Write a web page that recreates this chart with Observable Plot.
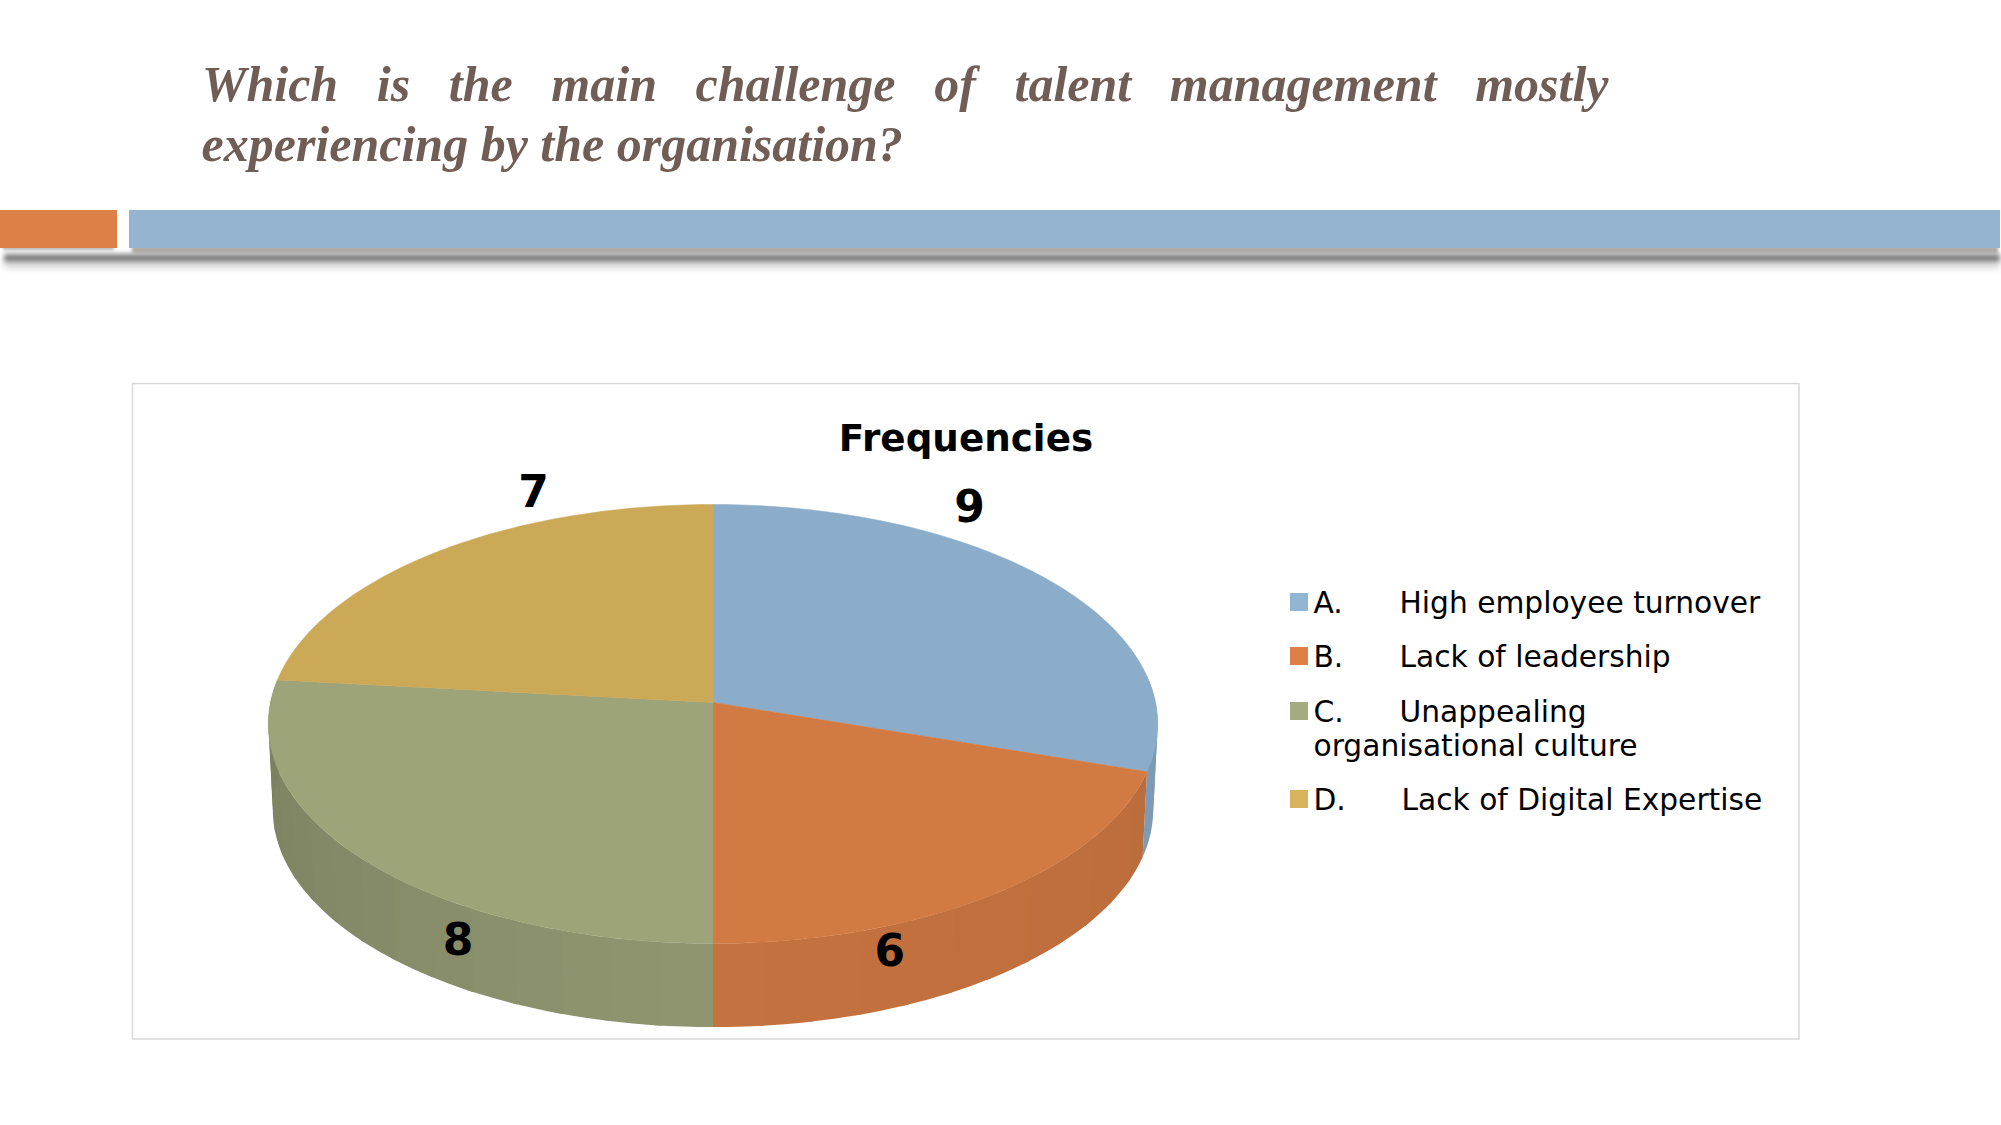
<!DOCTYPE html>
<html><head><meta charset="utf-8">
<style>html,body{margin:0;padding:0;background:#fff;overflow:hidden}svg{display:block}</style>
<script src="https://cdn.jsdelivr.net/npm/d3@7"></script>
<script src="https://cdn.jsdelivr.net/npm/@observablehq/plot@0.6"></script>
</head><body><div id="chart"></div>
<script>
// ---- data ----
const keys = ["A.", "B.", "C.", "D."];
const categories = ["High employee turnover", "Lack of leadership", "Unappealing", "Lack of Digital Expertise"];
const frequencies = [9, 6, 8, 7];
const chartTitle = "Frequencies";
const headingLines = ["Which is the main challenge of talent management mostly", "experiencing by the organisation?"];
const extraLegendLine = "organisational culture";

// ---- styles ----
const topColors = ["#8cadc9", "#d27a43", "#9da47a", "#cca957"];
const swatchColors = ["#92b5d3", "#dd8047", "#a5ab81", "#d8b25c"];

// ---- pie geometry (perspective-projected disc) ----
const cx = 712.5, apexY = 702, R = 442.5, S = 217.4, k = 0.098, drop = 86, shrink = 0.99;
const project = (a, lower) => {
  const u = Math.sin(a), v = -Math.cos(a), d = 1 - k * v, s = lower ? shrink : 1;
  return {x: cx + s * R * u / d, y: apexY + (lower ? drop : 0) + s * S * v / d};
};
const arcs = d3.pie().sort(null)(frequencies);
const deg = Math.PI / 180;

const faces = [];
arcs.forEach((arc, i) => {
  faces.push({id: i, x: cx, y: apexY, c: topColors[i]});
  const n = Math.ceil((arc.endAngle - arc.startAngle) / deg);
  for (let j = 0; j <= n; ++j) {
    faces.push({id: i, ...project(arc.startAngle + (arc.endAngle - arc.startAngle) * j / n), c: topColors[i]});
  }
  faces.push({id: i, x: cx, y: apexY, c: topColors[i]});
});

const shadeAt = a => {
  const t = (a / deg - 180) / 90;
  return t < 0 ? 0.935 + 0.05 * t : 0.915 - 0.13 * t;
};
const sides = [];
arcs.forEach((arc, i) => {
  const a0 = Math.max(arc.startAngle, 84 * deg), a1 = Math.min(arc.endAngle, 276 * deg);
  const step = 6 * deg;
  for (let a = a0; a < a1 - 1e-6; a += step) {
    const b = Math.min(a + step, a1), base = d3.rgb(topColors[i]), f = shadeAt((a + b) / 2);
    const c = d3.rgb(base.r * f, base.g * f, base.b * f).formatHex();
    const id = `${i}-${a}`;
    // Each strip runs slightly under the next one so no seam shows, but stays inside its slice.
    const end = Math.min(b + 1 * deg, a1);
    const steps = 4;
    const ring = [];
    for (let q = 0; q <= steps; ++q) ring.push(project(a + (end - a) * q / steps));
    for (let q = steps; q >= 0; --q) ring.push(project(a + (end - a) * q / steps, true));
    ring.push(ring[0]);
    ring.forEach(p => sides.push({id, ...p, c}));
  }
});

const labelRadiusX = [317, 301, 343, 268], labelRadiusY = [331, 308, 356, 282];
const valueLabels = arcs.map((arc, i) => {
  const m = (arc.startAngle + arc.endAngle) / 2;
  return {text: String(frequencies[i]), x: cx + labelRadiusX[i] * Math.sin(m), y: apexY - labelRadiusY[i] * Math.cos(m)};
});

// ---- legend layout ----
const legendBaselines = [612, 666, 721, 809];
const legendNameX = [1399, 1399, 1399, 1401];
const legendRows = keys.map((key, i) => ({key, name: categories[i], y: legendBaselines[i], nx: legendNameX[i], sw: swatchColors[i]}));

const band = (x1, x2, y1, y2, fill, extra = {}) =>
  Plot.rect([{x1, x2, y1, y2}], {x1: "x1", x2: "x2", y1: "y1", y2: "y2", fill, ...extra});

const sans = "DejaVu Sans", serif = "Liberation Serif";
const textBase = {x: "x", y: "y", text: "text", textAnchor: "start", lineAnchor: "bottom"};
const legendFont = 29.7;

const plot = Plot.plot({
  width: 2001, height: 1125, margin: 0,
  x: {domain: [0, 2001], range: [0, 2001], axis: null},
  y: {domain: [0, 1125], range: [0, 1125], axis: null},
  color: {type: "identity"},
  style: {background: "#fff", overflow: "visible"},
  marks: [
    // heading
    Plot.text([{text: headingLines[0], x: 201.5, y: 100}], {...textBase, fontFamily: serif, fontWeight: "bold", fontStyle: "italic", fontSize: 50, fill: "#705d55"}),
    Plot.text([{text: headingLines[1], x: 201, y: 160}], {...textBase, fontFamily: serif, fontWeight: "bold", fontStyle: "italic", fontSize: 50, fill: "#705d55"}),
    // banner shadows
    band(4, 2000, 263, 268, "#999", {imageFilter: "blur(3px)", fillOpacity: 0.45}),
    band(4, 2000, 254, 262, "#666", {imageFilter: "blur(2.5px)", fillOpacity: 0.85}),
    band(3, 114, 246, 250, "#777", {imageFilter: "blur(1.5px)", fillOpacity: 0.55}),
    band(132, 1998, 246, 253, "#7a746a", {imageFilter: "blur(1.5px)", fillOpacity: 0.6}),
    // banner
    band(0, 117, 210, 248, "#dd8047"),
    band(129, 2000, 210, 248, "#94b4d0"),
    // chart frame
    band(132.5, 1799, 383.5, 1039, "none", {stroke: "#d9d9d9", strokeWidth: 1.5}),
    // pie sides then top faces
    Plot.line(sides, {x: "x", y: "y", z: "id", fill: "c"}),
    Plot.line(faces, {x: "x", y: "y", z: "id", fill: "c", stroke: "c", strokeWidth: 0.5}),
    // title and value labels
    Plot.text([{text: chartTitle, x: 965.5, y: 450}], {...textBase, textAnchor: "middle", fontFamily: sans, fontWeight: "bold", fontSize: 37.3, fill: "#000"}),
    Plot.text(valueLabels, {x: "x", y: "y", text: "text", textAnchor: "middle", lineAnchor: "middle", fontFamily: sans, fontWeight: "bold", fontSize: 44, fill: "#000"}),
    // legend
    Plot.rect(legendRows, {x1: 1290, x2: 1308, y1: d => d.y - 19, y2: d => d.y - 1, fill: "sw"}),
    Plot.text(legendRows, {x: 1313, y: "y", text: "key", textAnchor: "start", lineAnchor: "bottom", fontFamily: sans, fontSize: legendFont, fill: "#000"}),
    Plot.text(legendRows, {x: "nx", y: "y", text: "name", textAnchor: "start", lineAnchor: "bottom", fontFamily: sans, fontSize: legendFont, fill: "#000"}),
    Plot.text([{text: extraLegendLine, x: 1313, y: 755}], {...textBase, fontFamily: sans, fontSize: legendFont, fill: "#000"})
  ]
});
document.getElementById("chart").append(plot);

// justify the first heading line the way the slide does
const targetWidth = 1608 - 201.5;
d3.select(plot).selectAll("text").each(function () {
  if (this.textContent === headingLines[0]) {
    const gaps = headingLines[0].split(" ").length - 1;
    const natural = this.getComputedTextLength();
    this.style.wordSpacing = ((targetWidth - natural) / gaps) + "px";
  }
});
</script></body></html>
